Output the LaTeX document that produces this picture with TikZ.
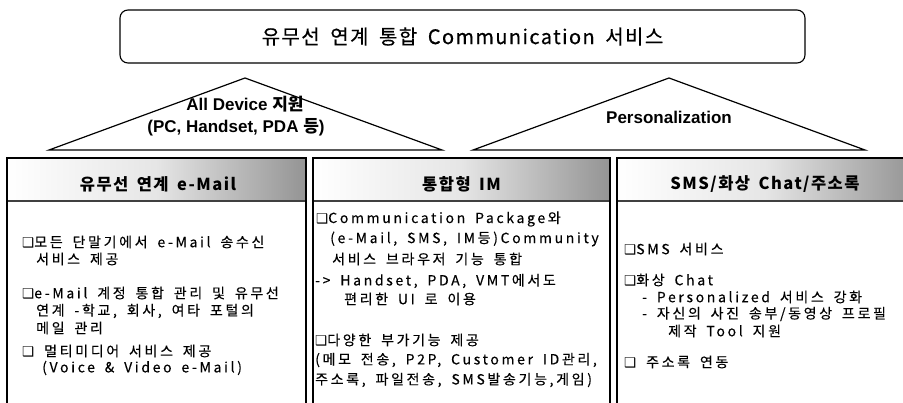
\documentclass[tikz,border=0pt]{standalone}
\usepackage{fontspec}
\setmainfont{Noto Sans CJK KR}
\newfontfamily\krbody{Noto Sans CJK KR}[LetterSpace=19,WordSpace=1.7,FakeBold=0.25]
\newfontfamily\krtitle{Noto Sans CJK KR}[LetterSpace=7,WordSpace=1.8,FakeBold=0.5]
\newfontfamily\krhead{Noto Sans CJK KR}[LetterSpace=9,WordSpace=1.6]
\newfontfamily\krlab{Noto Sans CJK KR}
\newfontfamily\arlab{Liberation Sans}
\newfontfamily\symfont{DejaVu Sans}
\newcommand\sqbul{{\symfont\fontsize{13.5}{15}\selectfont ❑}}
\tikzset{
  panelline/.style={draw=black, line width=1.3pt},
  tri/.style={draw=black, line width=1.2pt, line join=miter},
  headtxt/.style={inner sep=0pt, font=\fontsize{16.5}{18}\krhead\bfseries},
  body/.style={anchor=west, inner sep=0pt, font=\fontsize{14}{16}\krbody},
  lab/.style={inner sep=0pt, font=\fontsize{17}{20}\arlab\bfseries},
}
\begin{document}
\begin{tikzpicture}[x=1pt,y=-1pt]
\useasboundingbox (0,0) rectangle (903,403);
\clip (0,0) rectangle (903,403);
% title box
\node[draw, rounded corners=8pt, line width=1.1pt, minimum width=685pt, minimum height=53pt, inner sep=0pt,
      font=\fontsize{20}{22}\krtitle] (title) at (462.5,36.5) {유무선 연계 통합 Communication 서비스};
% triangles
\coordinate (apexL) at (245,78);
\coordinate (baseL1) at (49,150);
\coordinate (baseL2) at (442,150);
\coordinate (apexR) at (669,78);
\coordinate (baseR1) at (473,150);
\coordinate (baseR2) at (865,150);
\draw[tri] (baseL1) -- (apexL) -- (baseL2) -- cycle;
\draw[tri] (baseR1) -- (apexR) -- (baseR2) -- cycle;
\node[lab] (labA) at (245,104) {All Device {\krlab\bfseries 지원}};
\node[lab] (labB) at (236,127) {(PC, Handset, PDA {\krlab\bfseries 등})};
\node[lab] (labC) at (669,117) {Personalization};
% panels
\foreach \xa/\xb in {7/306, 313/610, 617/914}{
  \shade[left color=white, right color=black!42, middle color=black!10] (\xa,158) rectangle (\xb,201);
  \draw[line width=2.2pt, black!75] (\xa,201) -- (\xb,201);
  \draw[panelline] (\xa,410) -- (\xa,158) -- (\xb,158) -- (\xb,410);
}
\node[headtxt] (h1) at (158,184) {유무선 연계 e-Mail};
\node[headtxt] (h2) at (461.5,184) {통합형 IM};
\node[headtxt] (h3) at (765,184) {SMS/화상 Chat/주소록};
% left panel text
\node[body] (a1) at (22,242) {\sqbul 모든 단말기에서 e-Mail 송수신};
\node[body] (a2) at (36,259) {서비스 제공};
\node[body] (a3) at (22,293) {\sqbul e-Mail 계정 통합 관리 및 유무선};
\node[body] (a4) at (36,311) {연계 -학교, 회사, 여타 포털의};
\node[body] (a5) at (36,328) {메일 관리};
\node[body] (a6) at (22,351) {\sqbul\ 멀티미디어 서비스 제공};
\node[body] (a7) at (42,368) {(Voice \& Video e-Mail)};
% middle panel text
\node[body] (b1) at (316,219) {\sqbul Communication Package와};
\node[body] (b2) at (330,239) {(e-Mail, SMS, IM등)Community};
\node[body] (b3) at (332,259) {서비스 브라우저 기능 통합};
\node[body] (b4) at (315,281) {-> Handset, PDA, VMT에서도};
\node[body] (b5) at (344,299) {편리한 UI 로 이용};
\node[body] (b6) at (315,340) {\sqbul 다양한 부가기능 제공};
\node[body] (b7) at (315,360) {(메모 전송, P2P, Customer ID관리,};
\node[body] (b8) at (315,380) {주소록, 파일전송, SMS발송기능,게임)};
% right panel text
\node[body] (c1) at (624,249) {\sqbul SMS 서비스};
\node[body] (c2) at (624,280) {\sqbul 화상 Chat};
\node[body] (c3) at (642,297) {- Personalized 서비스 강화};
\node[body] (c4) at (642,314) {- 자신의 사진 송부/동영상 프로필};
\node[body] (c5) at (668,331) {제작 Tool 지원};
\node[body] (c6) at (624,362) {\sqbul\ 주소록 연동};
\end{tikzpicture}
\end{document}
